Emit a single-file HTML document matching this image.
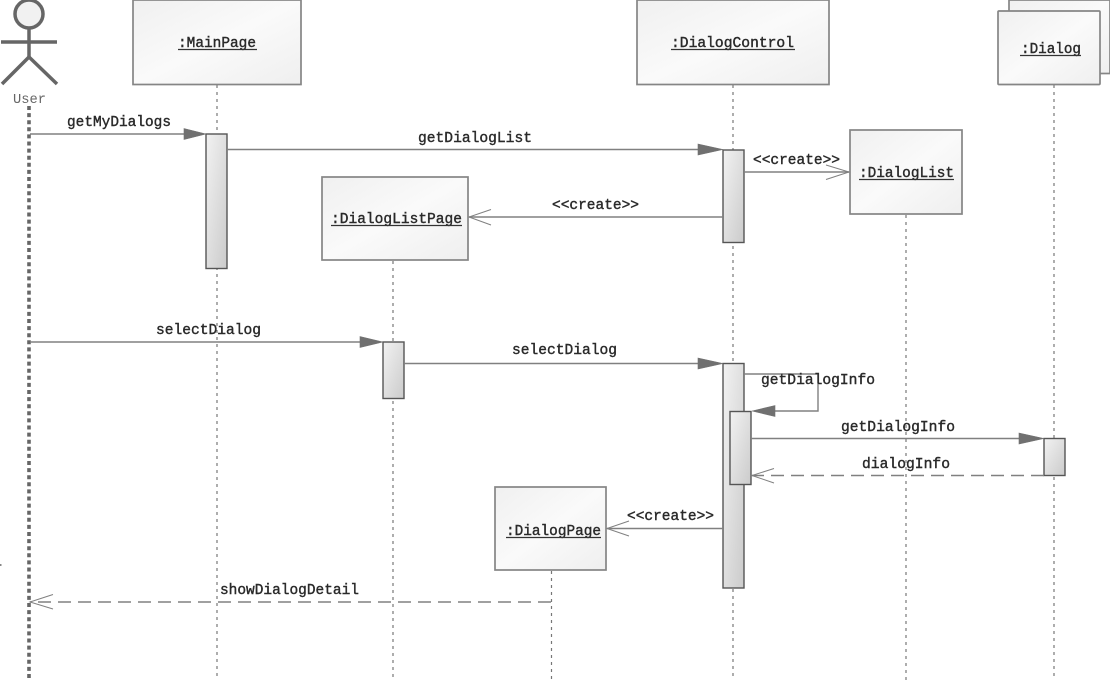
<!DOCTYPE html>
<html>
<head>
<meta charset="utf-8">
<style>
html,body{margin:0;padding:0;background:#fff;width:1110px;height:680px;overflow:hidden}
svg{display:block;filter:blur(.35px)}
text{font-family:"Liberation Mono","DejaVu Sans Mono",monospace;font-size:14.5px;fill:#2a2a2a;stroke:#2a2a2a;stroke-width:.4px}
.box{fill:url(#b);stroke:#858585;stroke-width:1.7}
.act{fill:url(#a);stroke:#555;stroke-width:1.4}
.life{stroke:#777;stroke-width:1.2;stroke-dasharray:3 4;fill:none}
.msg{stroke:#808080;stroke-width:1.4;fill:none}
.dash{stroke:#808080;stroke-width:1.4;fill:none;stroke-dasharray:13 7}
.open{stroke:#808080;stroke-width:1;fill:none}
.head{fill:#707070;stroke:#707070;stroke-width:.6}
.u{stroke:#333;stroke-width:1.3}
</style>
</head>
<body>
<svg width="1110" height="680" viewBox="0 0 1110 680" xmlns="http://www.w3.org/2000/svg">
<defs>
<linearGradient id="b" x1="0" y1="0" x2="1" y2="1"><stop offset="0" stop-color="#f0f0f0"/><stop offset=".5" stop-color="#fafafa"/><stop offset="1" stop-color="#efefef"/></linearGradient>
<linearGradient id="a" x1="0" y1="0" x2="1" y2="1"><stop offset="0" stop-color="#f2f2f2"/><stop offset="1" stop-color="#cbcbcb"/></linearGradient>
</defs>
<rect width="1110" height="680" fill="#fff"/>

<!-- lifelines -->
<line class="life" x1="217" y1="85" x2="217" y2="680"/>
<line class="life" x1="733" y1="85" x2="733" y2="680"/>
<line class="life" x1="1054" y1="85" x2="1054" y2="680"/>
<line class="life" x1="906" y1="215" x2="906" y2="680"/>
<line class="life" x1="393" y1="261" x2="393" y2="680"/>
<line class="life" x1="551.5" y1="571" x2="551.5" y2="680"/>
<line x1="29" y1="106" x2="29" y2="680" stroke="#666" stroke-width="3.6" stroke-dasharray="4 3.1"/>

<!-- actor -->
<g stroke="#666" fill="none" stroke-width="3.5">
<circle cx="29" cy="14" r="14" fill="#f1f1f1"/>
<line x1="29" y1="28" x2="29" y2="57"/>
<line x1="1" y1="42" x2="57" y2="42"/>
<line x1="29" y1="57" x2="2" y2="84"/>
<line x1="29" y1="57" x2="57" y2="84"/>
</g>
<text x="13" y="103" textLength="33" lengthAdjust="spacingAndGlyphs" style="fill:#666;stroke:none;font-size:14px">User</text>

<!-- object boxes -->
<rect class="box" x="133" y="0" width="168" height="84.5"/>
<rect class="box" x="637" y="0" width="192" height="84.5"/>
<rect class="box" x="1009" y="0" width="101" height="73.5"/>
<rect class="box" x="998" y="11" width="102" height="73.5" rx="1"/>
<rect class="box" x="850" y="130" width="112" height="84"/>
<rect class="box" x="322" y="177" width="146" height="83"/>
<rect class="box" x="495" y="487" width="111" height="83"/>

<text x="178" y="47" textLength="78" lengthAdjust="spacingAndGlyphs">:MainPage</text>
<line class="u" x1="178" y1="49.5" x2="257" y2="49.5"/>
<text x="671" y="47" textLength="123" lengthAdjust="spacingAndGlyphs">:DialogControl</text>
<line class="u" x1="671" y1="49.5" x2="795" y2="49.5"/>
<text x="1021" y="53" textLength="60" lengthAdjust="spacingAndGlyphs">:Dialog</text>
<line class="u" x1="1020" y1="55.5" x2="1081" y2="55.5"/>
<text x="859" y="177" textLength="95" lengthAdjust="spacingAndGlyphs">:DialogList</text>
<line class="u" x1="859" y1="179.5" x2="954" y2="179.5"/>
<text x="331" y="223" textLength="131" lengthAdjust="spacingAndGlyphs">:DialogListPage</text>
<line class="u" x1="331" y1="225.5" x2="462" y2="225.5"/>
<text x="506" y="535" textLength="95" lengthAdjust="spacingAndGlyphs">:DialogPage</text>
<line class="u" x1="506" y1="537.5" x2="601" y2="537.5"/>

<!-- activations -->
<rect class="act" x="206" y="134" width="21" height="134.5"/>
<rect class="act" x="723" y="150" width="21" height="92.5"/>
<rect class="act" x="723" y="363.5" width="21" height="224.5"/>
<rect class="act" x="730" y="411.5" width="21" height="73"/>
<rect class="act" x="383" y="342" width="21" height="56.5"/>
<rect class="act" x="1044" y="438.5" width="21" height="37"/>

<!-- messages -->
<line class="msg" x1="30" y1="134" x2="190" y2="134"/>
<polygon class="head" points="184,128.5 206,134 184,139.5"/>
<text x="67" y="126" textLength="104" lengthAdjust="spacingAndGlyphs">getMyDialogs</text>

<line class="msg" x1="227" y1="149.5" x2="705" y2="149.5"/>
<polygon class="head" points="698,144 723,149.5 698,155"/>
<text x="418" y="142" textLength="114" lengthAdjust="spacingAndGlyphs">getDialogList</text>

<line class="msg" x1="744" y1="172" x2="849" y2="172"/>
<polyline class="open" points="826,165 849,172 826,179.5"/>
<text x="753" y="164" textLength="87" lengthAdjust="spacingAndGlyphs">&lt;&lt;create&gt;&gt;</text>

<line class="msg" x1="723" y1="217" x2="469" y2="217"/>
<polyline class="open" points="491,209.5 469,217 491,225"/>
<text x="552" y="209" textLength="87" lengthAdjust="spacingAndGlyphs">&lt;&lt;create&gt;&gt;</text>

<line class="msg" x1="30" y1="342" x2="368" y2="342"/>
<polygon class="head" points="360,336.5 383,342 360,347.5"/>
<text x="156" y="334" textLength="105" lengthAdjust="spacingAndGlyphs">selectDialog</text>

<line class="msg" x1="404" y1="363.5" x2="705" y2="363.5"/>
<polygon class="head" points="698,358 723,363.5 698,369"/>
<text x="512" y="354" textLength="105" lengthAdjust="spacingAndGlyphs">selectDialog</text>

<polyline class="msg" points="744,374 818,374 818,411 765,411"/>
<polygon class="head" points="775,405.5 752,411 775,416.5"/>
<text x="761" y="384" textLength="114" lengthAdjust="spacingAndGlyphs">getDialogInfo</text>

<line class="msg" x1="751" y1="438.5" x2="1025" y2="438.5"/>
<polygon class="head" points="1019,433 1044,438.5 1019,444"/>
<text x="841" y="431" textLength="114" lengthAdjust="spacingAndGlyphs">getDialogInfo</text>

<line class="dash" x1="1044" y1="475.5" x2="752" y2="475.5"/>
<polyline class="open" points="774,468.5 752,475.5 774,483"/>
<text x="862" y="468" textLength="88" lengthAdjust="spacingAndGlyphs">dialogInfo</text>

<line class="msg" x1="723" y1="528.5" x2="607" y2="528.5"/>
<polyline class="open" points="629,521 607,528.5 629,536"/>
<text x="627" y="520" textLength="87" lengthAdjust="spacingAndGlyphs">&lt;&lt;create&gt;&gt;</text>

<line class="dash" x1="551" y1="602" x2="30" y2="602"/>
<polyline class="open" points="53,594.5 30,602 53,609"/>
<text x="220" y="594" textLength="139" lengthAdjust="spacingAndGlyphs">showDialogDetail</text>

<rect x="0" y="564" width="1.5" height="2" fill="#888"/>
</svg>
</body>
</html>
